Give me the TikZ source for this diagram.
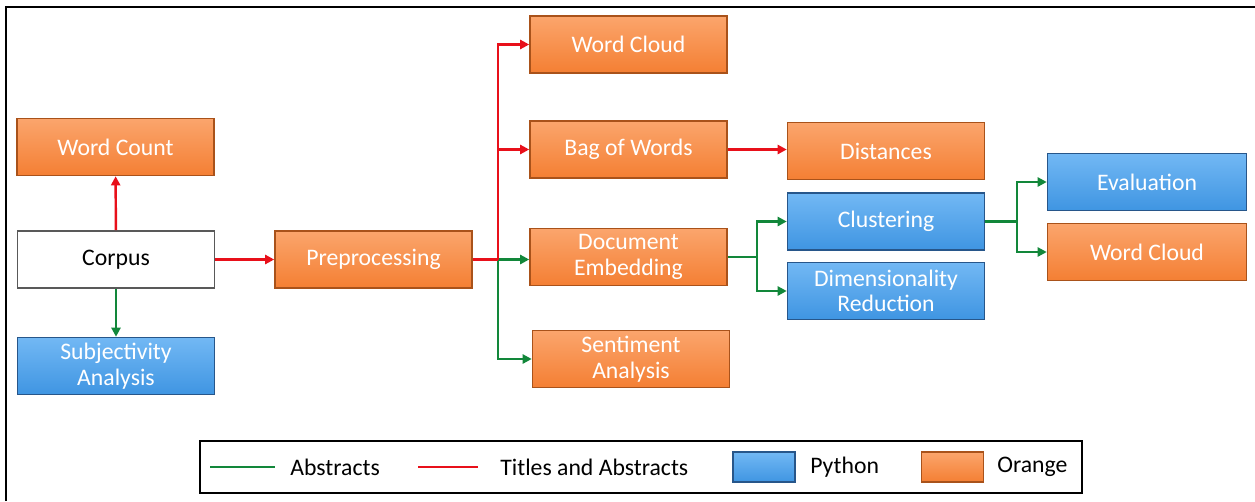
\documentclass[tikz,border=0pt]{standalone}
\usepackage{fontspec}
\setmainfont{Carlito}
\usetikzlibrary{arrows.meta,positioning}

\definecolor{ortop}{HTML}{FBA56C}
\definecolor{orfill}{HTML}{F47F33}
\definecolor{orline}{HTML}{A9521A}
\definecolor{bltop}{HTML}{72B8F4}
\definecolor{blfill}{HTML}{3F95E2}
\definecolor{blline}{HTML}{27568A}
\definecolor{redline}{HTML}{E8101A}
\definecolor{greenline}{HTML}{12873A}

\tikzset{
  box/.style={minimum width=3.94cm, minimum height=1.14cm, inner sep=0pt, align=center,
    font=\fontsize{13.5}{14.5}\selectfont, line width=0.9pt},
  orangebox/.style={box, top color=ortop, bottom color=orfill, draw=orline, text=white},
  bluebox/.style={box, top color=bltop, bottom color=blfill, draw=blline, text=white},
  plainbox/.style={box, fill=white, draw=black!65, text=black},
  redwire/.style={redline, line width=1.4pt},
  greenwire/.style={greenline, line width=1.4pt},
  redarr/.style={redwire, -{Triangle[length=1.8mm,width=1.8mm]}},
  greenarr/.style={greenwire, -{Triangle[length=1.8mm,width=1.8mm]}},
  legtext/.style={anchor=west, inner sep=0pt, font=\fontsize{13.5}{14.5}\selectfont},
  legsquare/.style={minimum width=1.24cm, minimum height=0.6cm, inner sep=0pt, line width=0.9pt}
}

\begin{document}
\begin{tikzpicture}[x=0.02cm, y=-0.02cm]
        \useasboundingbox (0,0) rectangle (1255,501);

        % outer frame
        \draw[line width=1.5pt] (6,501) -- (6,7) -- (1255,7);

        % left column
        \node[orangebox] (wordcount) at (115.5,147) {Word Count};
        \node[plainbox] (corpus) at (116,259.5) {Corpus};
        \node[bluebox] (subjectivity) at (116,366) {Subjectivity\\Analysis};
        \node[orangebox] (preprocessing) at (373.5,259.5) {Preprocessing};

        % middle column
        \node[orangebox] (cloudA) at (628.5,44.5) {Word Cloud};
        \node[orangebox] (bagofwords) at (628.5,149.5) {Bag of Words};
        \node[orangebox] (embedding) at (628.5,257) {Document\\Embedding};
        \node[orangebox] (sentiment) at (631,359) {Sentiment\\Analysis};

        % right columns
        \node[orangebox] (distances) at (886,151) {Distances};
        \node[bluebox] (clustering) at (886,221.5) {Clustering};
        \node[bluebox] (dimred) at (886,291) {Dimensionality\\Reduction};
        \node[bluebox, minimum width=3.98cm] (evaluation) at (1147,182) {Evaluation};
        \node[orangebox, minimum width=3.98cm] (cloudB) at (1147,252) {Word Cloud};

        % branch points
        \coordinate (prepsplit) at (498,259.5);
        \coordinate (embsplit) at (757,257);
        \coordinate (clusplit) at (1017,221.5);

        % connectors
        \draw[redarr] (corpus) -- (wordcount);
        \draw[greenarr] (corpus) -- (subjectivity);
        \draw[redarr] (corpus) -- (preprocessing);

        \draw[greenarr] (prepsplit) |- (sentiment.west);
        \draw[greenarr] (prepsplit) -- (prepsplit -| embedding.west);
        \draw[redarr] (prepsplit) |- (bagofwords.west);
        \draw[redarr] (prepsplit) |- (cloudA.west);
        \draw[redwire] (preprocessing.east) -- (prepsplit);

        \draw[redarr] (bagofwords.east) -- (bagofwords.east -| distances.west);

        \draw[greenwire] (embedding.east) -- (embsplit);
        \draw[greenarr] (embsplit) |- (clustering.west);
        \draw[greenarr] (embsplit) |- (dimred.west);

        \draw[greenwire] (clustering.east) -- (clusplit);
        \draw[greenarr] (clusplit) |- (evaluation.west);
        \draw[greenarr] (clusplit) |- (cloudB.west);

        % legend
        \draw[line width=1.1pt] (200,441) rectangle (1082,493);
        \coordinate (gA) at (210,467);
        \coordinate (gB) at (275,467);
        \coordinate (rA) at (418,467);
        \coordinate (rB) at (478,467);
        \draw[greenwire] (gA) -- (gB);
        \node[legtext] (legabs) at (290,467) {Abstracts};
        \draw[redwire] (rA) -- (rB);
        \node[legtext] (legtitles) at (500,467) {Titles and Abstracts};
        \node[legsquare, top color=bltop, bottom color=blfill, draw=blline] (legblue) at (764,467) {};
        \node[legtext] (legpython) at (810,467) {Python};
        \node[legsquare, top color=ortop, bottom color=orfill, draw=orline] (legorange) at (952.5,467) {};
        \node[legtext] (legorangetxt) at (997,467) {Orange};

\end{tikzpicture}
\end{document}
